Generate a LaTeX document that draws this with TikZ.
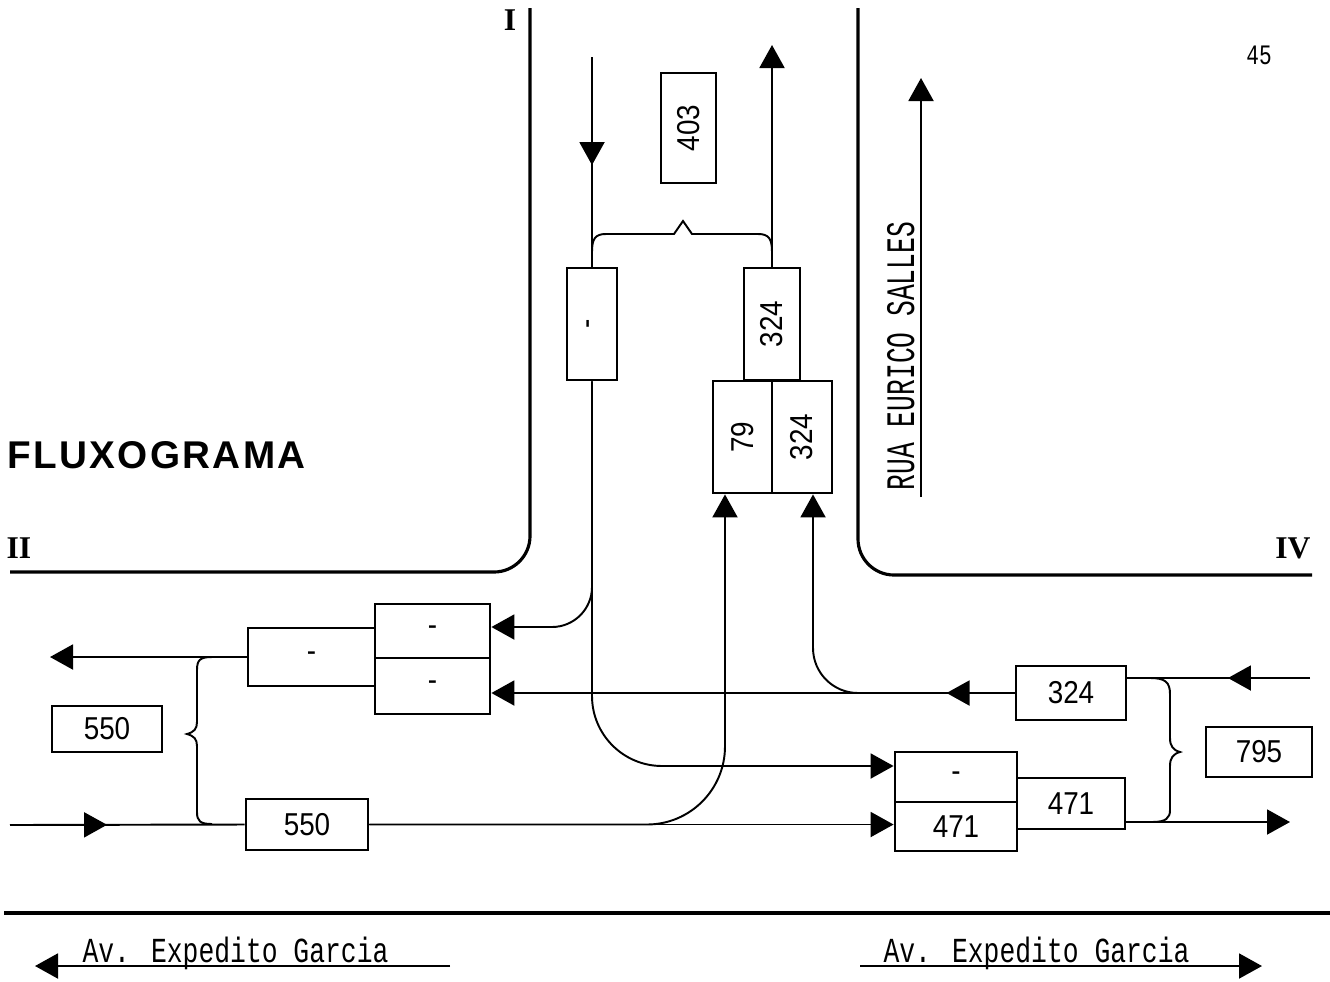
\documentclass[tikz,border=0pt]{standalone}
\usepackage{fontspec}
\setmainfont{Liberation Sans}
\newfontfamily\numfont[FakeStretch=0.88]{Liberation Sans}
\newfontfamily\plotfont[FakeStretch=0.75]{Liberation Mono}
\newfontfamily\ruafont[FakeStretch=0.65]{Liberation Mono}
\newfontfamily\romfont{Liberation Serif}
\newfontfamily\headfont[LetterSpace=6]{Liberation Sans}
\usetikzlibrary{arrows.meta,calc,decorations.markings,positioning}

\tikzset{
  >={Triangle[length=2.3mm,width=2.5mm]},
  road/.style={line width=0.9pt,rounded corners=3.6mm},
  flow/.style={line width=0.55pt},
  cell/.style 2 args={draw,line width=0.8pt,inner sep=0pt,minimum width=#1*0.01cm,minimum height=#2*0.01cm,font=\numfont\fontsize{9}{9}\selectfont},
  arrowat/.style={postaction={decorate},decoration={markings,mark=at position #1 with {\arrow{>}}}},
  roman/.style={font=\romfont\bfseries\fontsize{9}{9}\selectfont},
  street/.style={font=\plotfont\fontsize{10}{10}\selectfont,anchor=base,inner sep=0pt}
}

\begin{document}
\begin{tikzpicture}[x=0.01cm,y=-0.01cm]
\useasboundingbox (0,0) rectangle (1330,981);
\draw[road] (10,572) -- (530,572) -- (530,8);
\draw[road] (858,8) -- (858,575) -- (1312,575);
\draw[line width=0.9pt] (4,913) -- (1330,913);

\node[cell={55}{110}] (n403) at (688.5,128) {\rotatebox{90}{403}};
\node[cell={50}{112}] (dN) at (592,324) {\rotatebox{90}{-}};
\node[cell={56}{112}] (t324) at (772,324) {\rotatebox{90}{324}};
\node[cell={59}{112}] (b79) at (742.5,437) {\rotatebox{90}{79}};
\node[cell={60}{112}] (b324) at (802,437) {\rotatebox{90}{324}};
\node[cell={127}{58}] (wS) at (311.5,657) {-};
\node[cell={115}{54}] (wA) at (432.5,631) {-};
\node[cell={115}{56}] (wB) at (432.5,686) {-};
\node[cell={110}{46}] (l550) at (107,729) {550};
\node[cell={122}{51}] (c550) at (307,824.5) {550};
\node[cell={122}{50}] (eA) at (956,777) {-};
\node[cell={122}{49}] (eB) at (956,826.5) {471};
\node[cell={108}{51}] (e471) at (1071,803.5) {471};
\node[cell={110}{54}] (e324) at (1071,693) {324};
\node[cell={106}{50}] (r795) at (1259,752) {795};

\coordinate (nIn) at (592,57);
\coordinate (nOut) at (772,45);
\coordinate (wOut) at (50,657);
\coordinate (wIn) at (10,825);
\coordinate (eIn) at (1310,678);
\coordinate (eOut) at (1290,822);

\draw[flow,arrowat=1.08cm] (nIn) -- (dN.north);
\draw[flow,->] (t324.north) -- (nOut);
\draw[flow,->] (wS.west) -- (wOut);
\draw[flow,arrowat=0.97cm] (wIn) -- (c550.west);
\draw[flow,->] (c550.east) -- (c550.east -| eB.west);
\draw[flow,->,rounded corners=7.8mm] (c550.east) -| ([xshift=-1.75mm]b79.south);
\draw[flow,arrowat=0.82cm] (eIn) -- (eIn -| e324.east);
\draw[flow,->] (e471.east |- eOut) -- (eOut);
\draw[flow,arrowat=0.68cm,->] (e324.west) -- (e324.west -| wB.east);
\draw[flow,->,rounded corners=4.5mm] (e324.west) -| ([xshift=1.1mm]b324.south);
\draw[flow,->,rounded corners=7mm] (dN.south) |- ([yshift=1.1mm]eA.west);
\draw[flow,->,rounded corners=4mm] (dN.south) |- ([yshift=0.4mm]wA.east);

\draw[flow] (592,252) .. controls (592,239) and (595,234) .. (606,234) -- (674,234) -- (683,221) -- (692,234) -- (758,234) .. controls (769,234) and (772,239) .. (772,252);
\draw[flow] (212,657) .. controls (200,657) and (197,660) .. (197,670) -- (197,722) .. controls (197,729) and (194,732) .. (187,734) .. controls (194,736) and (197,739) .. (197,746) -- (197,812) .. controls (197,821) and (200,824) .. (212,824);
\draw[flow] (1150,678) .. controls (1165,678) and (1170,682) .. (1170,694) -- (1170,738) .. controls (1170,746) and (1173,750) .. (1180,752) .. controls (1173,754) and (1170,758) .. (1170,766) -- (1170,810) .. controls (1170,818) and (1166,822) .. (1152,822);

\node[font=\headfont\bfseries\fontsize{11}{12}\selectfont] (title) at (156.5,455) {FLUXOGRAMA};
\node[roman] (rI) at (510,20) {I};
\node[roman] (rII) at (19,548) {II};
\node[roman] (rIV) at (1293,548) {IV};
\node[font=\plotfont\fontsize{8}{8}\selectfont] (pg) at (1259,55) {45};

\node[font=\ruafont\fontsize{11.5}{11.5}\selectfont,rotate=90,anchor=base,inner sep=0pt] (rua) at (914,356) {RUA EURICO SALLES};
\coordinate (ruaS) at (921,497);
\coordinate (ruaN) at (921,78);
\draw[flow,->] (ruaS) -- (ruaN);

\node[street] (avW) at (235.5,962) {Av. Expedito Garcia};
\node[street] (avE) at (1036.5,962) {Av. Expedito Garcia};
\coordinate (avWa) at (450,966);
\coordinate (avWb) at (35,966);
\coordinate (avEa) at (860,966);
\coordinate (avEb) at (1262,966);
\draw[flow,->] (avWa) -- (avWb);
\draw[flow,->] (avEa) -- (avEb);
\end{tikzpicture}
\end{document}
